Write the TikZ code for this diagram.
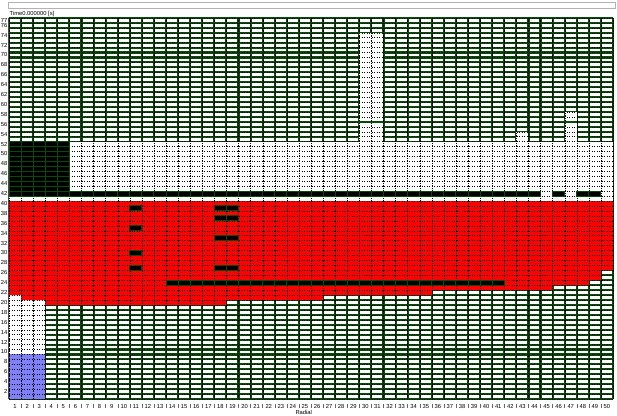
\documentclass[tikz,border=0pt]{standalone}
\usepackage{fontspec}
\setmainfont{Liberation Sans}
\definecolor{meshgreen}{RGB}{8,75,8}
\definecolor{cellred}{RGB}{255,0,0}
\definecolor{cellblue}{RGB}{128,128,250}
\tikzset{
  lab/.style={font=\fontsize{5.8}{5.8}\selectfont, inner sep=0pt},
  greengrid/.style={draw=meshgreen, line width=2.1pt, step={(1,1)}},
  meshline/.style={draw=black, line width=0.35pt, dash pattern=on 1.2pt off 1.3pt, step={(1,1)}},
  blackcell/.style={fill=black},
  blackgrid/.style={draw=meshgreen, line width=1pt, step={(1,1)}},
}
\begin{document}
\begin{tikzpicture}[x=1pt,y=-1pt]
\useasboundingbox (0,0) rectangle (617,415);
\fill[white] (0,0) rectangle (617,415);
\draw[gray!60, line width=0.6pt, fill=white] (8.7,2.7) rectangle (615,8.7);
\node[lab, anchor=west] (title) at (9.5,13.5) {Time0.000000 [s]};
\begin{scope}[shift={(9pt,-399pt)}, x=12.08pt, y=4.95pt]
  \fill[white] (0,0) rectangle (50,77);
  \draw[greengrid] (0,0) grid (50,77);
  % white zones
  \fill[white] (0,40) rectangle (50,52);
  \fill[white] (29,52) rectangle (31,74);
  \fill[white] (42,52) rectangle (43,54);
  \fill[white] (46,52) rectangle (47,58);
  \fill[white] (0,9) rectangle (3,21);
  % red zone
  \fill[cellred] (0,40) -- (50,40) -- (50,26) -- (49,26) -- (49,24) -- (48,24) -- (48,23)
     -- (45,23) -- (45,22) -- (35,22) -- (35,21) -- (26,21) -- (26,20) -- (18,20) -- (18,19)
     -- (3,19) -- (3,20) -- (1,20) -- (1,21) -- (0,21) -- cycle;
  % blue zone
  \fill[cellblue] (0,0) rectangle (3,9);
  % dashed mesh
  \draw[meshline] (0,0) grid (50,77);
  % green separators in white columns
  \draw[meshgreen, line width=1.4pt] (29,56) -- (31,56);
  \draw[meshgreen, line width=1.4pt] (46,56) -- (47,56);
  % black cells
  \foreach \a/\b/\c/\d in {0/41/5/52, 5/41/44/42, 45/41/46/42, 47/41/49/42, 13/23/41/24,
      10/38/11/39, 10/34/11/35, 10/29/11/30, 10/26/11/27,
      17/38/19/39, 17/36/19/37, 17/32/19/33, 17/26/19/27} {
    \fill[blackcell] (\a,\b) rectangle (\c,\d);
    \draw[blackgrid] (\a,\b) grid (\c,\d);
    \draw[blackgrid] (\a,\b) rectangle (\c,\d);
  }
  % left axis line
  \draw[black!70, line width=0.8pt] (-0.04,0) -- (-0.04,77);
  % labels
  \node[lab, anchor=east] (r77) at (-0.12,76.5) {77};
  \foreach \r in {2,4,...,76} {
    \node[lab, anchor=east] (r\r) at (-0.12,\r-0.5) {\r};
  }
  \foreach \k in {1,...,50} {
    \node[lab] (c\k) at (\k-0.5,-1.45) {\k};
  }
  \foreach \k in {1,...,49} {
    \draw[black!60, line width=0.4pt] (\k,-1.05) -- (\k,-1.85);
  }
  \node[lab] (radial) at (24.4,-2.65) {Radial};
\end{scope}
\end{tikzpicture}
\end{document}
